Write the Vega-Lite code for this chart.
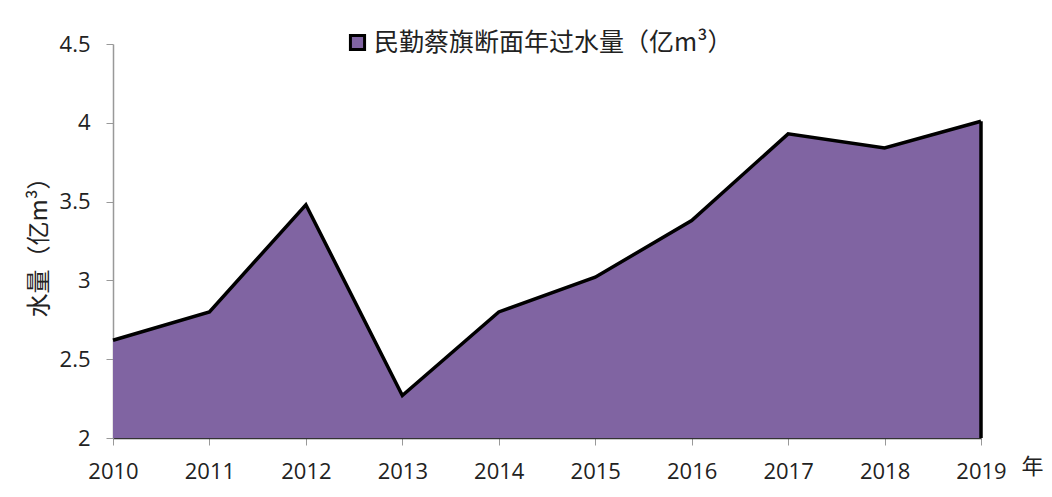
{
  "$schema": "https://vega.github.io/schema/vega-lite/v6.json",
  "autosize": {"type": "none"},
  "padding": {"left": 113, "top": 44, "right": 71, "bottom": 59},
  "width": 868,
  "height": 394,
  "background": "white",
  "config": {
    "view": {"stroke": null},
    "font": "Open Sans"
  },
  "data": {
    "values": [
      {"year": 2010, "value": 2.62, "series": "民勤蔡旗断面年过水量（亿m³）"},
      {"year": 2011, "value": 2.80, "series": "民勤蔡旗断面年过水量（亿m³）"},
      {"year": 2012, "value": 3.48, "series": "民勤蔡旗断面年过水量（亿m³）"},
      {"year": 2013, "value": 2.27, "series": "民勤蔡旗断面年过水量（亿m³）"},
      {"year": 2014, "value": 2.80, "series": "民勤蔡旗断面年过水量（亿m³）"},
      {"year": 2015, "value": 3.02, "series": "民勤蔡旗断面年过水量（亿m³）"},
      {"year": 2016, "value": 3.38, "series": "民勤蔡旗断面年过水量（亿m³）"},
      {"year": 2017, "value": 3.93, "series": "民勤蔡旗断面年过水量（亿m³）"},
      {"year": 2018, "value": 3.84, "series": "民勤蔡旗断面年过水量（亿m³）"},
      {"year": 2019, "value": 4.01, "series": "民勤蔡旗断面年过水量（亿m³）"}
    ]
  },
  "encoding": {
    "x": {
      "field": "year",
      "type": "quantitative",
      "scale": {"domain": [2010, 2019], "nice": false, "zero": false},
      "axis": {
        "values": [2010, 2011, 2012, 2013, 2014, 2015, 2016, 2017, 2018, 2019],
        "format": "d",
        "grid": false,
        "labelFlush": false,
        "labelBound": false,
        "labelOverlap": false,
        "domainColor": "#333333",
        "domainWidth": 1.5,
        "tickColor": "#999999",
        "tickSize": 7,
        "labelFontSize": 22,
        "labelColor": "#222222",
        "labelPadding": 16,
        "labelFont": "Open Sans",
        "title": "年",
        "titleFont": "Noto Sans CJK SC",
        "titleFontSize": 22,
        "titleFontWeight": "normal",
        "titleColor": "#222222",
        "titleAngle": 0,
        "titleAlign": "left",
        "titleBaseline": "middle",
        "titleAnchor": "end",
        "titleX": 908,
        "titleY": 28
      }
    },
    "y": {
      "field": "value",
      "type": "quantitative",
      "scale": {"domain": [2, 4.5], "nice": false, "zero": false},
      "axis": {
        "values": [2, 2.5, 3, 3.5, 4, 4.5],
        "format": "~g",
        "grid": false,
        "domainColor": "#999999",
        "domainWidth": 1.5,
        "tickColor": "#999999",
        "tickSize": 7,
        "labelFontSize": 22,
        "labelColor": "#222222",
        "labelPadding": 16,
        "labelFont": "Open Sans",
        "title": "水量（亿m³）",
        "titleFont": "Noto Sans CJK SC",
        "titleFontSize": 24,
        "titleFontWeight": "normal",
        "titleColor": "#222222",
        "titlePadding": 8
      }
    }
  },
  "layer": [
    {
      "mark": {"type": "area", "opacity": 1},
      "encoding": {
        "y2": {"datum": 2},
        "color": {
          "field": "series",
          "type": "nominal",
          "scale": {"range": ["#8064A2"]},
          "legend": {
            "title": null,
            "orient": "none",
            "legendX": 232,
            "legendY": -14,
            "symbolType": "square",
            "symbolSize": 200,
            "symbolStrokeColor": "black",
            "symbolStrokeWidth": 3,
            "symbolFillColor": "#8064A2",
            "symbolOpacity": 1,
            "labelFont": "Noto Sans CJK SC",
            "labelFontSize": 25,
            "labelColor": "#222222",
            "labelLimit": 0,
            "labelOffset": 4
          }
        }
      }
    },
    {
      "mark": {"type": "line", "color": "black", "strokeWidth": 3.5, "strokeJoin": "miter"},
      "encoding": {}
    },
    {
      "transform": [{"filter": "datum.year == 2019"}],
      "mark": {"type": "rule", "color": "black", "strokeWidth": 3.5},
      "encoding": {"y2": {"datum": 2}}
    }
  ]
}
